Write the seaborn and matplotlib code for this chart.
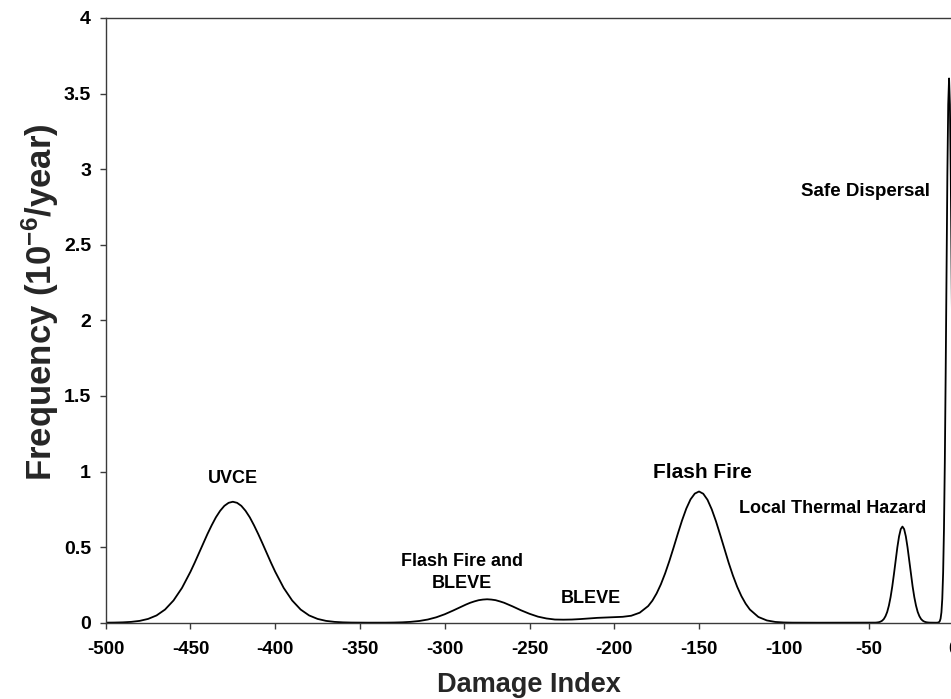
import matplotlib
matplotlib.use("Agg")
import matplotlib.pyplot as plt
import seaborn as sns
import pandas as pd

# ---- data ----
damage_index = [
    -500, -495, -490, -485, -480, -475, -470, -465, -460, -455, -450, -447.5,
    -445, -442.5, -440, -437.5, -435, -432.5, -430, -427.5, -425, -422.5, -420,
    -417.5, -415, -412.5, -410, -407.5, -405, -402.5, -400, -395, -390, -385,
    -380, -375, -370, -365, -360, -355, -350, -345, -340, -335, -330, -325, -320,
    -315, -310, -305, -300, -295, -290, -287.5, -285, -282.5, -280, -277.5, -275,
    -272.5, -270, -267.5, -265, -262.5, -260, -255, -250, -245, -240, -235, -230,
    -225, -220, -215, -210, -205, -200, -195, -190, -185, -180, -177.5, -175,
    -172.5, -170, -167.5, -165, -162.5, -160, -157.5, -155, -152.5, -150, -147.5,
    -145, -142.5, -140, -137.5, -135, -132.5, -130, -127.5, -125, -122.5, -120,
    -115, -110, -105, -100, -95, -90, -85, -80, -70, -60, -50,
    -46, -45, -44, -43, -42, -41, -40, -39, -38, -37, -36, -35, -34, -33, -32, -31,
    -30, -29, -28, -27, -26, -25, -24, -23, -22, -21, -20, -19, -18, -17, -16, -15,
    -14, -12, -10,
    -9, -8.5, -8, -7.5, -7, -6.5, -6, -5.5, -5, -4.5, -4, -3.5, -3, -2.5, -2, -1.5,
    -1, -0.5, 0,
]
frequency = [
    0.0003, 0.0009, 0.0023, 0.0054, 0.012, 0.025, 0.048, 0.087, 0.147, 0.230, 0.337,
    0.397, 0.460, 0.524, 0.586, 0.644, 0.697, 0.740, 0.773, 0.793, 0.800, 0.793,
    0.773, 0.740, 0.697, 0.644, 0.586, 0.524, 0.460, 0.397, 0.337, 0.230, 0.147,
    0.087, 0.048, 0.025, 0.012, 0.0054, 0.0023, 0.0009, 0.0003, 0.0002, 0.0002,
    0.0004, 0.0011, 0.0026, 0.0057, 0.0114, 0.0210, 0.0357, 0.0559, 0.0807, 0.1074,
    0.120, 0.1317, 0.141, 0.1488, 0.153, 0.155, 0.153, 0.149, 0.141, 0.132, 0.120,
    0.108, 0.082, 0.059, 0.040, 0.028, 0.021, 0.020, 0.021, 0.024, 0.028, 0.032,
    0.0345, 0.0365, 0.039, 0.046, 0.066, 0.110, 0.146, 0.194, 0.254, 0.326, 0.408,
    0.497, 0.589, 0.677, 0.755, 0.816, 0.854, 0.868, 0.853, 0.813, 0.750, 0.671,
    0.581, 0.488, 0.396, 0.312, 0.238, 0.176, 0.126, 0.087, 0.038, 0.015, 0.005,
    0.0015, 0.0004, 0.0001, 0.0, 0.0, 0.0, 0.0, 0.0,
    0.0006, 0.0015, 0.0032, 0.0066, 0.013, 0.024, 0.043, 0.071, 0.113, 0.169, 0.240,
    0.323, 0.413, 0.499, 0.571, 0.619, 0.636, 0.619, 0.571, 0.499, 0.413, 0.323,
    0.240, 0.169, 0.113, 0.071, 0.043, 0.024, 0.013, 0.0066, 0.0032, 0.0015,
    0.0006, 0.0, 0.0,
    0.001, 0.0032, 0.0098, 0.027, 0.069, 0.158, 0.329, 0.621, 1.062, 1.648, 2.320,
    2.961, 3.428, 3.6, 3.428, 2.961, 2.320, 1.648, 1.062,
]

x_ticks = [-500, -450, -400, -350, -300, -250, -200, -150, -100, -50, 0]
y_ticks = [0, 0.5, 1, 1.5, 2, 2.5, 3, 3.5, 4]
y_tick_labels = ["0", "0.5", "1", "1.5", "2", "2.5", "3", "3.5", "4"]

labels = ["UVCE", "Flash Fire and", "BLEVE", "BLEVE", "Flash Fire",
          "Local Thermal Hazard", "Safe Dispersal"]
label_x = [-425, -289.6, -289.6, -213.8, -147.7, -71.0, -51.5]
label_y = [0.924, 0.375, 0.2275, 0.128, 0.955, 0.7235, 2.82]
label_size = [13, 13, 13, 13, 15, 13, 13.5]

# ---- plotting ----
sns.set_theme(style="ticks")
plt.rcParams["font.family"] = ["Liberation Sans", "DejaVu Sans"]
plt.rcParams["font.weight"] = "bold"
plt.rcParams["mathtext.fontset"] = "custom"
plt.rcParams["mathtext.rm"] = "Liberation Sans:bold"
plt.rcParams["mathtext.bf"] = "Liberation Sans:bold"
plt.rcParams["mathtext.it"] = "Liberation Sans:bold"
plt.rcParams["mathtext.default"] = "bf"

fig = plt.figure(figsize=(9.51, 6.99), dpi=100)
ax = fig.add_axes([105.7 / 951, 76.3 / 699, 847.6 / 951, 604.7 / 699])

df = pd.DataFrame({"Damage Index": damage_index, "Frequency": frequency})
sns.lineplot(data=df, x="Damage Index", y="Frequency", color="black",
             linewidth=1.3, ax=ax, sort=False)

ax.set_xlim(-500, 0)
ax.set_ylim(0, 4)
ax.set_xticks(x_ticks)
ax.set_xticklabels([str(t) for t in x_ticks])
ax.set_yticks(y_ticks)
ax.set_yticklabels(y_tick_labels)

spine_col = "#3a3a3a"
for s in ax.spines.values():
    s.set_color(spine_col)
    s.set_linewidth(1.0)
ax.tick_params(axis="both", direction="out", length=4.5, width=1.0,
               color=spine_col, labelcolor="black")
ax.tick_params(axis="x", labelsize=13.5, pad=9)
ax.tick_params(axis="y", labelsize=14, pad=6)
for lab in ax.get_xticklabels() + ax.get_yticklabels():
    lab.set_fontweight("bold")

ax.set_xlabel("Damage Index", fontsize=19.5, fontweight="bold")
ax.set_ylabel(r"Frequency (10$^{-6}$/year)", fontsize=25, fontweight="bold")
ax.xaxis.set_label_coords(0.4994, -0.103)
ax.xaxis.label.set_va("center")
ax.yaxis.set_label_coords(-0.0775, 0.53)
ax.yaxis.label.set_va("center")

for t, x, y, fs in zip(labels, label_x, label_y, label_size):
    ax.text(x, y, t, ha="center", va="baseline", fontsize=fs, fontweight="bold",
            color="black")

fig.savefig("out.png", dpi=100)
